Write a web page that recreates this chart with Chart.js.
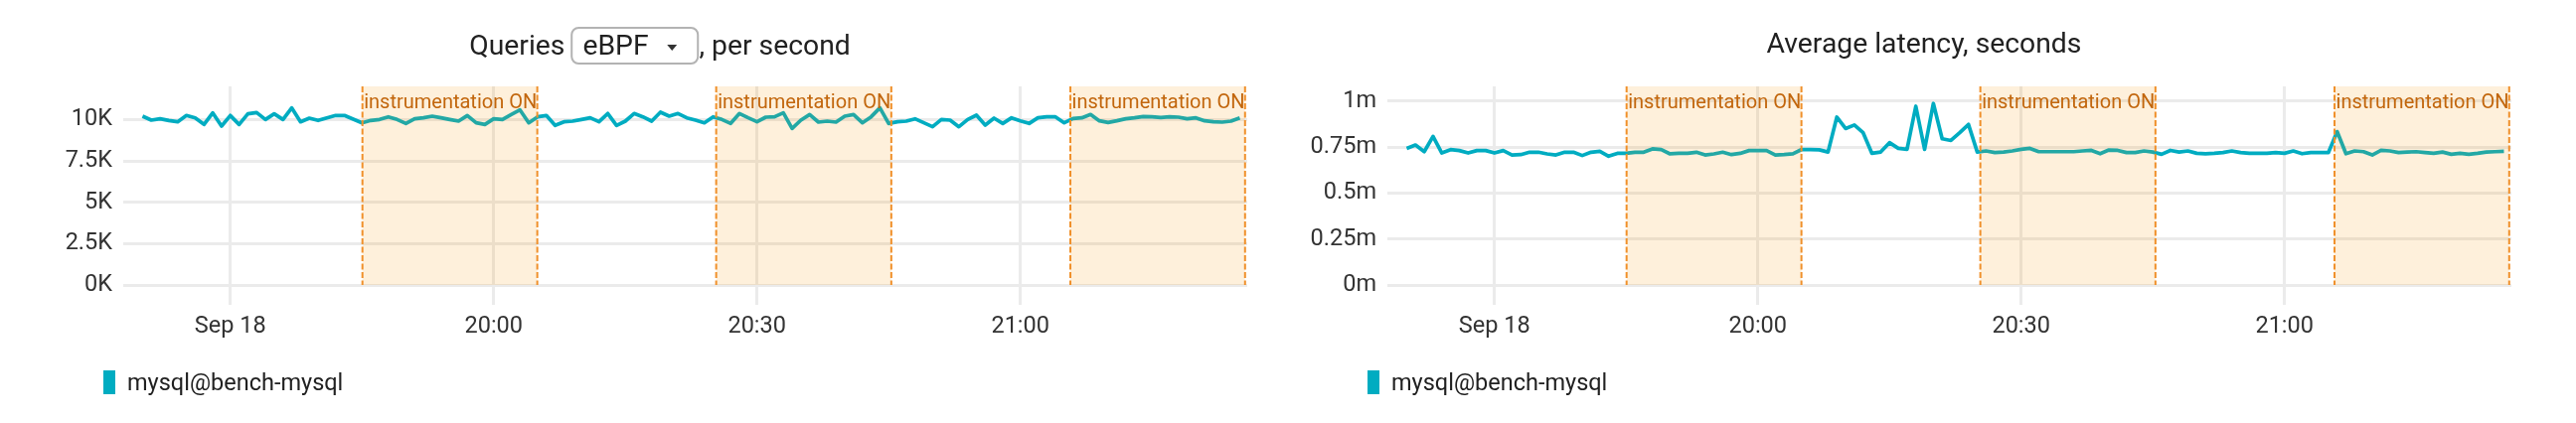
<!DOCTYPE html>
<html>
<head>
<meta charset="utf-8">
<script src="https://cdn.jsdelivr.net/npm/chart.js@4"></script>
<style>
  body { margin: 0; background: #fff; font-family: Roboto, sans-serif; color: #212121; }
  #page { position: relative; width: 2592px; height: 426px; overflow: hidden; }
  .panel { position: absolute; top: 0; width: 1296px; height: 426px; }
  .panel canvas { position: absolute; left: 0; top: 0; }
  .title { position: absolute; top: 27px; left: 664px; transform: translateX(-50%);
    white-space: nowrap; font-size: 28.3px; line-height: 34px; }
  .select { display: inline-block; border: 2px solid #b3b3b3; border-radius: 8px;
    padding: 0 20px 0 10px; margin-left: 6px; line-height: 34px; }
  .arrow { display: inline-block; width: 0; height: 0; margin-left: 19px; vertical-align: 4px;
    border-left: 5px solid transparent; border-right: 5px solid transparent; border-top: 6px solid #333; }
  .legend { position: absolute; left: 104px; top: 373px; display: flex; align-items: center;
    font-size: 23.5px; line-height: 24px; }
  .legend .mark { width: 12px; height: 24px; margin-right: 12px; }
</style>
</head>
<body>
<div id="page">
  <div class="panel" id="p1" style="left:0px">
    <canvas id="c1" width="1296" height="426" style="width:1296px;height:426px"></canvas>
    <div class="title">Queries<span class="select">eBPF<span class="arrow"></span></span>, per second</div>
    <div class="legend"><span class="mark"></span><span class="name"></span></div>
  </div>
  <div class="panel" id="p2" style="left:1272px">
    <canvas id="c2" width="1296" height="426" style="width:1296px;height:426px"></canvas>
    <div class="title">Average latency, seconds</div>
    <div class="legend"><span class="mark"></span><span class="name"></span></div>
  </div>
</div>
<script>
  // time in minutes after 19:00, one sample per minute
  const firstSample = 20;
  const timeTicks = [30, 60, 90, 120];
  const timeTickLabels = ["Sep 18", "20:00", "20:30", "21:00"];
  const xMin = 17.8;
  const xMax = 145.85;

  const bands = [[45.05, 64.97], [85.35, 105.3], [125.7, 145.6]];
  const bandLabel = "instrumentation ON";

  const seriesName = "mysql@bench-mysql";
  const seriesColor = "#00acc1";

  const queriesTicks = [0, 2500, 5000, 7500, 10000];
  const queriesTickLabels = ["0K", "2.5K", "5K", "7.5K", "10K"];
  const queries = [
    10200, 9960, 10040, 9940, 9860, 10240, 10100, 9700, 10400, 9600,
    10240, 9700, 10340, 10420, 10000, 10340, 10000, 10700, 9860, 10080,
    9940, 10100, 10240, 10240, 10020, 9800, 9940, 10000, 10160, 10000,
    9760, 10040, 10100, 10200, 10100, 10000, 9900, 10240, 9800, 9700,
    10040, 10000, 10300, 10580, 9800, 10160, 10240, 9640, 9860, 9900,
    10000, 10100, 9860, 10360, 9640, 9900, 10360, 10160, 9900, 10440,
    10200, 10360, 10100, 9960, 9800, 10160, 10000, 9760, 10360, 10100,
    9860, 10140, 10160, 10400, 9460, 9960, 10300, 9840, 9900, 9840,
    10200, 10300, 9800, 10160, 10700, 9760, 9860, 9900, 10040, 9800,
    9560, 10000, 9960, 9560, 10000, 10260, 9660, 10080, 9760, 10100,
    9920, 9760, 10100, 10160, 10160, 9800, 10060, 10100, 10300, 9920,
    9820, 9920, 10040, 10100, 10180, 10160, 10120, 10160, 10140, 10040,
    10100, 9920, 9860, 9840, 9900, 10100
  ];

  const latencyTicks = [0, 0.25, 0.5, 0.75, 1];
  const latencyTickLabels = ["0m", "0.25m", "0.5m", "0.75m", "1m"];
  const latency = [
    0.743, 0.761, 0.725, 0.808, 0.718, 0.736, 0.731, 0.718, 0.731, 0.731,
    0.718, 0.731, 0.707, 0.709, 0.722, 0.722, 0.713, 0.707, 0.722, 0.722,
    0.704, 0.722, 0.727, 0.700, 0.716, 0.716, 0.722, 0.722, 0.740, 0.736,
    0.713, 0.716, 0.716, 0.722, 0.707, 0.713, 0.722, 0.709, 0.716, 0.731,
    0.731, 0.731, 0.707, 0.709, 0.713, 0.737, 0.736, 0.735, 0.723, 0.913,
    0.851, 0.870, 0.828, 0.716, 0.723, 0.774, 0.743, 0.738, 0.972, 0.738,
    0.987, 0.795, 0.786, 0.828, 0.873, 0.723, 0.729, 0.720, 0.723, 0.729,
    0.738, 0.743, 0.725, 0.725, 0.725, 0.725, 0.725, 0.729, 0.732, 0.714,
    0.734, 0.732, 0.720, 0.720, 0.729, 0.723, 0.711, 0.732, 0.723, 0.729,
    0.716, 0.714, 0.716, 0.720, 0.729, 0.720, 0.716, 0.716, 0.716, 0.720,
    0.716, 0.729, 0.714, 0.720, 0.720, 0.720, 0.834, 0.714, 0.729, 0.725,
    0.707, 0.732, 0.729, 0.720, 0.723, 0.725, 0.720, 0.716, 0.723, 0.711,
    0.716, 0.711, 0.716, 0.723, 0.725, 0.727
  ];

  Chart.defaults.font.family = "Roboto";

  const bandPlugin = {
    id: "bands",
    afterDatasetsDraw(chart) {
      const { ctx, chartArea, scales } = chart;
      const top = chartArea.top;
      const base = scales.y.getPixelForValue(0);
      ctx.save();
      bands.forEach(([a, b]) => {
        const x1 = scales.x.getPixelForValue(a);
        const x2 = scales.x.getPixelForValue(b);
        ctx.fillStyle = "rgba(245,150,0,0.14)";
        ctx.fillRect(x1, top, x2 - x1, base - top);
        ctx.strokeStyle = "#f0902a";
        ctx.lineWidth = 2;
        ctx.setLineDash([6, 2.5]);
        [x1, x2].forEach((xx) => {
          ctx.beginPath();
          ctx.moveTo(xx, top);
          ctx.lineTo(xx, base);
          ctx.stroke();
        });
        ctx.setLineDash([]);
        ctx.fillStyle = "#c2660c";
        ctx.font = "20px Roboto";
        ctx.textBaseline = "alphabetic";
        ctx.fillText(bandLabel, x1 + 1.5, top + 22);
      });
      ctx.restore();
    },
  };

  function makeChart(canvasId, values, yMin, yMax, yTicks, yLabels) {
    const grid = { color: "#ebebeb", lineWidth: 3, drawTicks: false };
    const tickFont = { size: 23.5 };
    return new Chart(document.getElementById(canvasId), {
      type: "line",
      data: {
        datasets: [{
          label: seriesName,
          data: values.map((v, i) => ({ x: firstSample + i, y: v })),
          borderColor: seriesColor,
          borderWidth: 3.7,
          borderJoinStyle: "round",
          pointRadius: 0,
          tension: 0,
          fill: false,
        }],
      },
      options: {
        responsive: false,
        animation: false,
        devicePixelRatio: 1,
        layout: { padding: { left: 0, top: 87, right: 41, bottom: 79 } },
        plugins: { legend: { display: false }, tooltip: { enabled: false } },
        scales: {
          x: {
            type: "linear",
            min: xMin,
            max: xMax,
            afterBuildTicks: (s) => { s.ticks = timeTicks.map((v) => ({ value: v })); },
            afterFit: (s) => { s.height = 40; },
            grid: grid,
            border: { display: false },
            ticks: {
              autoSkip: false, maxRotation: 0, padding: 8, color: "#333", font: tickFont,
              callback: (v, i) => timeTickLabels[i],
            },
          },
          y: {
            min: yMin,
            max: yMax,
            afterBuildTicks: (s) => { s.ticks = yTicks.map((v) => ({ value: v })); },
            afterFit: (s) => { s.width = 124; },
            grid: grid,
            border: { display: false },
            ticks: {
              padding: 11, color: "#333", font: tickFont,
              callback: (v, i) => yLabels[i],
            },
          },
        },
      },
      plugins: [bandPlugin],
    });
  }

  makeChart("c1", queries, -1200, 12000, queriesTicks, queriesTickLabels);
  makeChart("c2", latency, -0.108, 1.08, latencyTicks, latencyTickLabels);

  document.querySelectorAll(".legend").forEach((el) => {
    el.querySelector(".mark").style.background = seriesColor;
    el.querySelector(".name").textContent = seriesName;
  });
</script>
</body>
</html>
